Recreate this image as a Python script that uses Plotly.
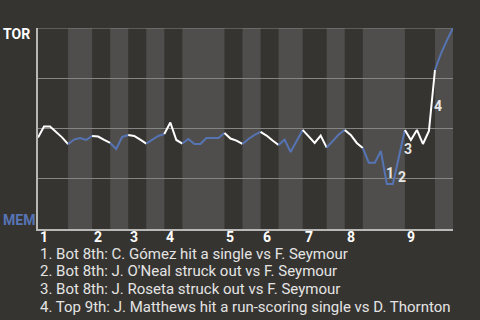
import plotly.graph_objects as go

# Win probability for TOR after each plate appearance (0 = MEM wins, 1 = TOR wins)
wp = [
    0.455, 0.51, 0.51, 0.485, 0.456, 0.422,                 # top 1
    0.445, 0.453, 0.443, 0.463,                            # bot 1
    0.46, 0.443, 0.428,                                    # top 2
    0.398, 0.458, 0.468,                                   # bot 2
    0.463, 0.445, 0.425,                                   # top 3
    0.443, 0.463, 0.473,                                   # bot 3
    0.53, 0.443, 0.425,                                    # top 4
    0.448, 0.423, 0.423, 0.453, 0.453, 0.453, 0.478,       # bot 4
    0.45, 0.44, 0.423,                                     # top 5
    0.448, 0.468, 0.483,                                   # bot 5
    0.465, 0.44, 0.418,                                    # top 6
    0.445, 0.383, 0.438, 0.493,                            # bot 6
    0.458, 0.428, 0.465, 0.405,                            # top 7
    0.438, 0.47, 0.493,                                    # bot 7
    0.468, 0.428, 0.403,                                   # top 8
    0.33, 0.33, 0.388, 0.224, 0.224, 0.358, 0.493,         # bot 8
    0.443, 0.493, 0.423, 0.488, 0.791,                     # top 9
    0.873, 0.94, 1.0,                                      # bot 9
]

# plate appearances per half inning (top 1, bot 1, top 2, ...)
half_inning_pa = [5, 4, 3, 3, 3, 3, 3, 7, 3, 3, 3, 4, 4, 3, 3, 7, 5, 3]
inning_labels = ["1", "2", "3", "4", "5", "6", "7", "8", "9"]
grid_values = [0.25, 0.5, 0.75, 1.0]

# key events: index of the plate appearance that ends the event segment
event_ends = [58, 60, 61, 66]
event_labels = ["1", "2", "3", "4"]
event_texts = [
    "1. Bot 8th: C. Gómez hit a single vs F. Seymour",
    "2. Bot 8th: J. O'Neal struck out vs F. Seymour",
    "3. Bot 8th: J. Roseta struck out vs F. Seymour",
    "4. Top 9th: J. Matthews hit a run-scoring single vs D. Thornton",
]
team_top = "TOR"
team_bottom = "MEM"

BG = "#363431"
LIGHT = "#4f4e4c"
BLUE = "#5674b4"
WHITE = "#ffffff"
GRID = "#858583"
AXIS = "#b8b8b6"
FONT = "Roboto"

bounds = [0]
for n in half_inning_pa:
    bounds.append(bounds[-1] + n)

fig = go.Figure()
shapes = []
for k in range(len(half_inning_pa)):
    a, b = bounds[k], bounds[k + 1]
    is_top = (k % 2 == 0)
    xs = list(range(a, b + 1))
    fig.add_trace(go.Scatter(
        x=xs, y=wp[a:b + 1], mode="lines",
        line=dict(color=WHITE if is_top else BLUE, width=2),
        hoverinfo="skip", showlegend=False))
    if not is_top:
        shapes.append(dict(type="rect", xref="x", yref="paper", x0=a, x1=b,
                           y0=0, y1=1, fillcolor=LIGHT, line=dict(width=0),
                           layer="below"))
# top gridline (at the edge of the range)
shapes.append(dict(type="line", xref="paper", yref="y", x0=0, x1=1,
                   y0=grid_values[-1], y1=grid_values[-1],
                   line=dict(color=GRID, width=1), layer="below"))

annotations = []
for i, lab in enumerate(inning_labels):
    annotations.append(dict(x=bounds[2 * i], y=0, xref="x", yref="paper",
                            text=lab, showarrow=False, xanchor="left",
                            yanchor="top", yshift=2,
                            font=dict(family=FONT, size=14, color=WHITE, weight="bold")))

for e, lab in zip(event_ends, event_labels):
    xm = e - 0.5
    ym = (wp[e - 1] + wp[e]) / 2
    annotations.append(dict(x=xm, y=ym, xref="x", yref="y", text=lab,
                            showarrow=False, xshift=6, yshift=-6,
                            font=dict(family=FONT, size=14, color="#e6e6e6", weight="bold")))

annotations.append(dict(x=0, y=1, xref="paper", yref="paper", text=team_top,
                        showarrow=False, xanchor="right", yanchor="middle",
                        xshift=-6, yshift=-6,
                        font=dict(family=FONT, size=14, color=WHITE, weight="bold")))
annotations.append(dict(x=0, y=0, xref="paper", yref="paper", text=team_bottom,
                        showarrow=False, xanchor="right", yanchor="middle",
                        xshift=-1, yshift=9,
                        font=dict(family=FONT, size=14, color=BLUE, weight="bold")))

for j, t in enumerate(event_texts):
    annotations.append(dict(x=0, y=0, xref="paper", yref="paper", text=t,
                            showarrow=False, xanchor="left", yanchor="middle",
                            yshift=-24.5 - 17.8 * j,
                            font=dict(family=FONT, size=15, color="#e4e4e4")))

fig.update_layout(
    width=480, height=320,
    margin=dict(l=38, r=27, t=28, b=91),
    paper_bgcolor=BG, plot_bgcolor=BG,
    shapes=shapes, annotations=annotations,
    xaxis=dict(range=[0, len(wp) - 1], showgrid=False, zeroline=False,
               showticklabels=False, ticks="", showline=True,
               linecolor=AXIS, linewidth=1.5),
    yaxis=dict(range=[0, 1], tickvals=grid_values[:-1],
               showgrid=True, gridcolor=GRID, gridwidth=1,
               zeroline=False, showticklabels=False, ticks="",
               showline=True, linecolor=AXIS, linewidth=1.5),
)

fig.write_html("out.html")
